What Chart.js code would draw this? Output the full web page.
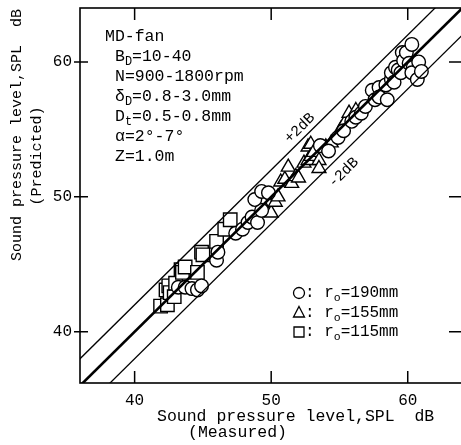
<!DOCTYPE html>
<html>
<head>
<meta charset="utf-8">
<script src="https://cdn.jsdelivr.net/npm/chart.js@4.4.1/dist/chart.umd.min.js"></script>
<style>
  html, body { margin: 0; padding: 0; background: #fff; }
  canvas { display: block; }
</style>
</head>
<body>
<canvas id="splChart" width="461" height="445"></canvas>
<script>
// axis setup
const tickValues = [40, 50, 60];
const xRange = [36, 63.9];
const yRange = [36.2, 64];

// r0 = 190 mm (circles)
const circleMeasured  = [43.2, 43.7, 44.2, 44.6, 44.9, 46.0, 46.1, 47.4, 47.9, 48.3, 48.6, 49.0, 49.3, 48.8, 49.3, 49.8,
  53.6, 54.2, 54.9, 55.3, 55.9, 56.2, 56.6, 56.9, 57.4, 57.6, 57.9, 57.9, 58.5, 58.4, 58.8, 58.8, 59.0, 59.1, 59.3,
  59.5, 59.6, 59.7, 59.9, 60.1, 60.3, 60.4, 60.3, 60.7, 60.8, 61.0];
const circlePredicted = [43.3, 43.3, 43.2, 43.1, 43.4, 45.3, 45.9, 47.3, 47.6, 48.1, 48.5, 48.1, 49.0, 49.8, 50.4, 50.3,
  53.8, 53.4, 54.4, 54.9, 55.6, 55.9, 56.2, 56.7, 57.9, 57.2, 58.1, 57.4, 57.2, 58.3, 58.7, 59.2, 58.5, 59.6, 59.4,
  59.2, 60.7, 60.1, 60.7, 59.9, 61.3, 59.6, 59.2, 58.7, 60.0, 59.3];

// r0 = 155 mm (triangles)
const triMeasured  = [49.6, 50.0, 50.3, 50.5, 50.7, 51.0, 51.25, 51.5, 51.8, 52.0, 52.4, 52.7, 52.7, 52.9, 52.9, 53.1,
  53.5, 53.5, 54.0, 54.4, 55.1, 55.4, 55.7, 56.2];
const triPredicted = [49.0, 48.8, 49.6, 50.0, 51.1, 51.3, 52.2, 51.0, 51.5, 51.4, 52.5, 52.7, 53.7, 53.9, 53.0, 53.3,
  52.7, 52.1, 53.7, 54.0, 55.0, 55.5, 56.2, 56.4];

// r0 = 115 mm (squares)
const sqMeasured  = [41.9, 42.4, 42.3, 42.5, 42.6, 42.9, 43.0, 43.4, 43.5, 43.7, 44.6, 44.9, 45.0, 46.0, 46.6, 47.0];
const sqPredicted = [41.9, 42.0, 43.1, 43.4, 42.9, 42.6, 43.6, 44.6, 44.4, 44.8, 44.4, 45.9, 45.7, 46.7, 47.6, 48.3];

// reference lines: predicted = measured, +2 dB, -2 dB
const lineEnds = [30, 70];
const bandOffset = 2;

const FONT = '"Liberation Mono", "DejaVu Sans Mono", monospace';

const toPoints = (xs, ys) => xs.map((x, i) => ({ x: x, y: ys[i] }));
const lineData = off => lineEnds.map(v => ({ x: v, y: v + off }));

const markerStyle = {
  type: 'scatter',
  backgroundColor: '#fff',
  borderColor: '#000',
  borderWidth: 1.4,
  order: 2
};

function drawRich(ctx, x, y, parts, size) {
  let cx = x;
  parts.forEach(p => {
    const sub = typeof p === 'object';
    const t = sub ? p.sub : p;
    ctx.font = (sub ? size * 0.72 : size) + 'px ' + FONT;
    ctx.fillText(t, cx, sub ? y + size * 0.32 : y);
    cx += ctx.measureText(t).width;
  });
}

const decorations = {
  id: 'decorations',
  afterDraw(chart) {
    const { ctx, chartArea: a, scales: { x, y } } = chart;
    ctx.save();
    ctx.strokeStyle = '#000';
    ctx.fillStyle = '#000';

    // frame (right side sits off the canvas, as in the scan)
    ctx.lineWidth = 1.6;
    ctx.strokeRect(a.left, a.top, a.right + 6 - a.left, a.bottom - a.top);

    // tick marks
    ctx.lineWidth = 1.5;
    ctx.beginPath();
    tickValues.forEach(v => {
      const px = x.getPixelForValue(v);
      const py = y.getPixelForValue(v);
      ctx.moveTo(px, a.bottom); ctx.lineTo(px, a.bottom - 12);
      ctx.moveTo(px, a.top); ctx.lineTo(px, a.top + 12);
      ctx.moveTo(a.left - 6, py); ctx.lineTo(a.left + 8, py);
      ctx.moveTo(a.right - 12, py); ctx.lineTo(a.right, py);
    });
    ctx.stroke();

    // band labels
    const ang = Math.atan2(y.getPixelForValue(50) - y.getPixelForValue(60),
                           x.getPixelForValue(60) - x.getPixelForValue(50));
    ctx.textAlign = 'center';
    ctx.textBaseline = 'middle';
    ctx.font = '15px ' + FONT;
    [['+2dB', 52.1, 55.1], ['-2dB', 55.3, 51.8]].forEach(([t, mx, my]) => {
      ctx.save();
      ctx.translate(x.getPixelForValue(mx), y.getPixelForValue(my));
      ctx.rotate(-ang);
      ctx.fillText(t, 0, 0);
      ctx.restore();
    });

    // test conditions
    ctx.textAlign = 'left';
    const params = [
      [105, 37, ['MD-fan']],
      [115, 57, ['B', { sub: 'D' }, '=10-40']],
      [115, 77, ['N=900-1800rpm']],
      [115, 97, ['\u03b4', { sub: 'D' }, '=0.8-3.0mm']],
      [115, 117, ['D', { sub: 't' }, '=0.5-0.8mm']],
      [115, 137, ['\u03b1=2\u00b0-7\u00b0']],
      [115, 157, ['Z=1.0m']]
    ];
    params.forEach(([px, py, parts]) => drawRich(ctx, px, py, parts, 16.5));

    // legend
    const legendRows = [['circle', '190'], ['triangle', '155'], ['square', '115']];
    legendRows.forEach(([shape, r], i) => {
      const cy = 293 + i * 19.5;
      const cx = 299;
      ctx.lineWidth = 1.3;
      ctx.beginPath();
      if (shape === 'circle') ctx.arc(cx, cy, 5.5, 0, Math.PI * 2);
      else if (shape === 'triangle') { ctx.moveTo(cx, cy - 6); ctx.lineTo(cx + 5.5, cy + 4.5); ctx.lineTo(cx - 5.5, cy + 4.5); ctx.closePath(); }
      else ctx.rect(cx - 5, cy - 5, 10, 10);
      ctx.stroke();
      drawRich(ctx, 305, cy, [': r', { sub: 'o' }, '=' + r + 'mm'], 16);
    });

    // axis titles
    ctx.font = '16.5px ' + FONT;
    ctx.fillText('Sound pressure level,SPL  dB', 157, 417);
    ctx.fillText('(Measured)', 188, 433);

    ctx.save();
    ctx.translate(17, 135);
    ctx.rotate(-Math.PI / 2);
    ctx.textAlign = 'center';
    ctx.font = '15px ' + FONT;
    ctx.fillText('Sound pressure level,SPL  dB', 0, 0);
    ctx.restore();
    ctx.save();
    ctx.translate(37, 156);
    ctx.rotate(-Math.PI / 2);
    ctx.textAlign = 'center';
    ctx.font = '15px ' + FONT;
    ctx.fillText('(Predicted)', 0, 0);
    ctx.restore();

    ctx.restore();
  }
};

const whiteBg = {
  id: 'whiteBg',
  beforeDraw(chart) {
    const c = chart.ctx;
    c.save();
    c.fillStyle = '#fff';
    c.fillRect(0, 0, chart.width, chart.height);
    c.restore();
  }
};

const setTicks = scale => { scale.ticks = tickValues.map(v => ({ value: v })); };
const noPad = s => { s.paddingTop = 0; s.paddingBottom = 0; s.paddingLeft = 0; s.paddingRight = 0; };

new Chart(document.getElementById('splChart'), {
  type: 'scatter',
  data: {
    datasets: [
      { type: 'line', data: lineData(0), borderColor: '#000', borderWidth: 2.6, pointRadius: 0, order: 0 },
      { type: 'line', data: lineData(bandOffset), borderColor: '#000', borderWidth: 1.3, pointRadius: 0, order: 1 },
      { type: 'line', data: lineData(-bandOffset), borderColor: '#000', borderWidth: 1.3, pointRadius: 0, order: 1 },
      Object.assign({ label: 'r0=190mm', data: toPoints(circleMeasured, circlePredicted), pointStyle: 'circle', pointRadius: 6.8 }, markerStyle),
      Object.assign({ label: 'r0=155mm', data: toPoints(triMeasured, triPredicted), pointStyle: 'triangle', pointRadius: 8 }, markerStyle),
      Object.assign({ label: 'r0=115mm', data: toPoints(sqMeasured, sqPredicted), pointStyle: 'rect', pointRadius: 9.5 }, markerStyle)
    ]
  },
  options: {
    responsive: false,
    animation: false,
    layout: { autoPadding: false, padding: { top: 8, right: 0, left: 0, bottom: 0 } },
    plugins: { legend: { display: false }, tooltip: { enabled: false } },
    scales: {
      x: {
        type: 'linear',
        min: xRange[0], max: xRange[1],
        afterBuildTicks: setTicks,
        afterFit: s => { s.height = 62; noPad(s); },
        grid: { display: false, drawTicks: false },
        border: { display: false },
        ticks: { color: '#000', padding: 8, font: { family: FONT, size: 16 } }
      },
      y: {
        type: 'linear',
        min: yRange[0], max: yRange[1],
        afterBuildTicks: setTicks,
        afterFit: s => { s.width = 80; noPad(s); },
        grid: { display: false, drawTicks: false },
        border: { display: false },
        ticks: { color: '#000', padding: 8, font: { family: FONT, size: 16 } }
      }
    }
  },
  plugins: [whiteBg, decorations]
});
</script>
</body>
</html>
